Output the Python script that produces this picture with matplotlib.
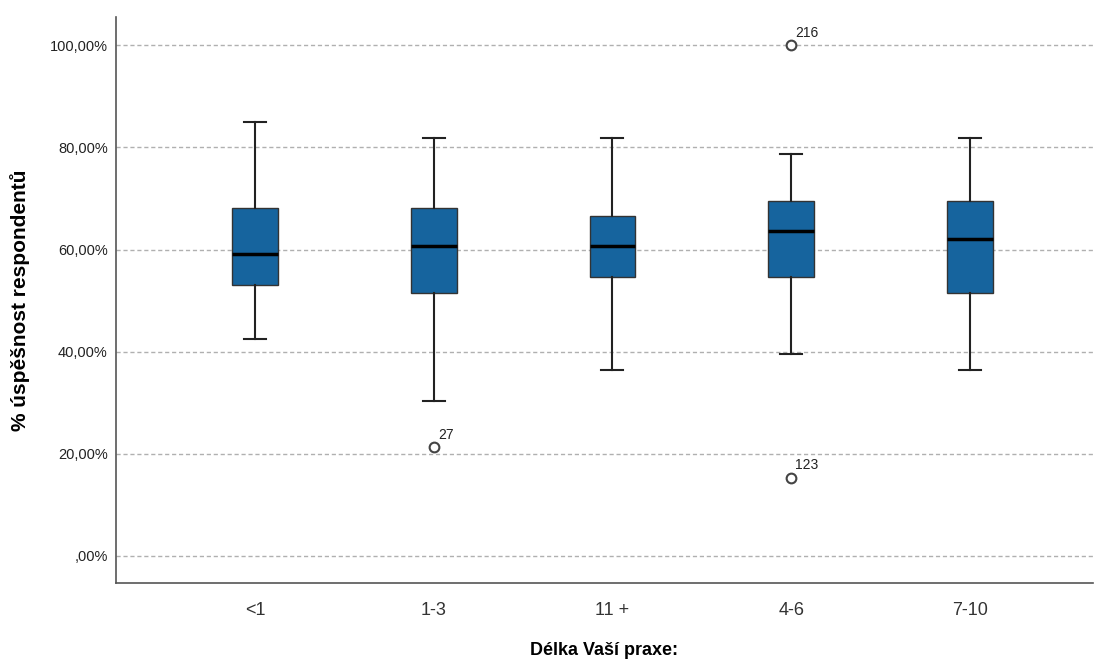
import matplotlib.pyplot as plt
from matplotlib.ticker import FuncFormatter

plt.rcParams['font.family'] = ['Liberation Sans', 'DejaVu Sans']

categories = ['<1', '1-3', '11 +', '4-6', '7-10']
whisker_low = [42.5, 30.3, 36.4, 39.5, 36.4]
q1 = [53.0, 51.5, 54.6, 54.6, 51.5]
medians = [59.1, 60.7, 60.7, 63.6, 62.0]
q3 = [68.1, 68.1, 66.5, 69.5, 69.5]
whisker_high = [84.9, 81.8, 81.8, 78.7, 81.8]
outliers = [[], [21.3], [], [100.0, 15.3], []]
outlier_ids = [[], ['27'], [], ['216', '123'], []]

stats = []
for i, name in enumerate(categories):
    stats.append({'label': name, 'whislo': whisker_low[i], 'q1': q1[i], 'med': medians[i],
                  'q3': q3[i], 'whishi': whisker_high[i], 'fliers': outliers[i]})

fig = plt.figure(figsize=(10.95, 6.59), dpi=100)
ax = fig.add_axes([0.106, 0.1153, 0.892, 0.8587])

pos = list(range(len(categories)))
ax.bxp(stats, positions=pos, widths=0.257, patch_artist=True,
       boxprops=dict(facecolor='#16649e', edgecolor='#333333', linewidth=1.0),
       medianprops=dict(color='black', linewidth=2.5),
       whiskerprops=dict(color='#222222', linewidth=1.5),
       capprops=dict(color='#222222', linewidth=1.5),
       capwidths=0.123,
       flierprops=dict(marker='o', markerfacecolor='white', markeredgecolor='#444444',
                       markersize=7, markeredgewidth=1.5))

for i in pos:
    for val, lab in zip(outliers[i], outlier_ids[i]):
        ax.annotate(lab, (i, val), xytext=(3, 6), textcoords='offset points',
                    fontsize=10, color='#222222')

ax.set_xlim(-0.777, 4.687)
ax.set_ylim(-5.3, 105.5)
ax.set_yticks([0, 20, 40, 60, 80, 100])
ax.yaxis.set_major_formatter(FuncFormatter(
    lambda v, p: ',00%' if v == 0 else f'{int(v)},00%'))
ax.yaxis.grid(True, linestyle=(0, (3, 2)), color='#b0b0b0', linewidth=1.0)
ax.set_axisbelow(True)
ax.tick_params(axis='both', length=0)
ax.tick_params(axis='y', labelsize=10.5, pad=6, colors='#222222')
ax.tick_params(axis='x', labelsize=13, pad=14, colors='#333333')
for s in ['top', 'right']:
    ax.spines[s].set_visible(False)
for s in ['left', 'bottom']:
    ax.spines[s].set_color('#555555')
    ax.spines[s].set_linewidth(1.2)

ax.set_ylabel('% úspěšnost respondentů', fontsize=15, fontweight='bold', labelpad=14)
ax.set_xlabel('Délka Vaší praxe:', fontsize=13, fontweight='bold', labelpad=16)

fig.savefig('out.png', dpi=100)
